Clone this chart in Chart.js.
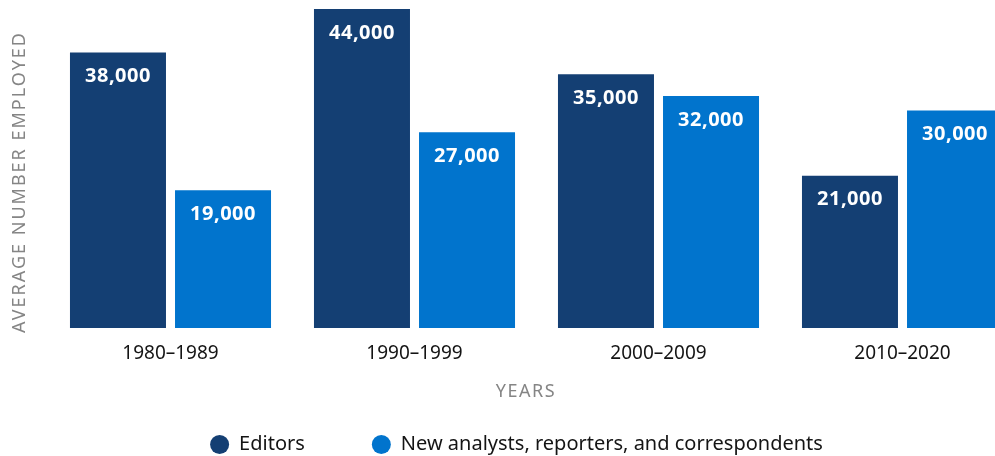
<!DOCTYPE html>
<html>
<head>
<meta charset="utf-8">
<script src="https://cdn.jsdelivr.net/npm/chart.js@4.4.1/dist/chart.umd.min.js"></script>
<style>
  html, body { margin: 0; padding: 0; background: #fff; overflow: hidden; }
  #wrap { width: 1033px; height: 456px; }
</style>
</head>
<body>
<div id="wrap"><canvas id="staff" width="1033" height="456"></canvas></div>
<script>
const decades = ['1980–1989', '1990–1999', '2000–2009', '2010–2020'];
const editors = [38000, 44000, 35000, 21000];
const analysts = [19000, 27000, 32000, 30000];
const seriesNames = ['Editors', 'New analysts, reporters, and correspondents'];
const seriesColors = ['#143f73', '#0174cd'];

const FONT = "'Noto Sans', 'Open Sans', sans-serif";

// white value labels near the top of each bar
const valueLabels = {
    id: 'valueLabels',
    afterDatasetsDraw(chart) {
        const ctx = chart.ctx;
        ctx.save();
        ctx.font = 'bold 20px ' + FONT;
        ctx.letterSpacing = '0.5px';
        ctx.fillStyle = '#ffffff';
        ctx.textAlign = 'center';
        ctx.textBaseline = 'middle';
        chart.data.datasets.forEach((ds, i) => {
            chart.getDatasetMeta(i).data.forEach((bar, j) => {
                ctx.fillText(ds.data[j].toLocaleString('en-US'), bar.x, bar.y + 24);
            });
        });
        ctx.restore();
    }
};

// axis titles with tracking, plus the round-dot legend underneath
const extras = {
    id: 'extras',
    afterDraw(chart) {
        const ctx = chart.ctx;
        ctx.save();

        // y title, stretched to the plot height
        ctx.font = '18px ' + FONT;
        ctx.fillStyle = '#858585';
        ctx.textAlign = 'center';
        ctx.textBaseline = 'middle';
        const yTitle = 'AVERAGE NUMBER EMPLOYED';
        const plain = ctx.measureText(yTitle).width;
        ctx.letterSpacing = ((300 - plain) / (yTitle.length - 1)) + 'px';
        ctx.translate(20, 182);
        ctx.rotate(-Math.PI / 2);
        ctx.fillText(yTitle, 0, 0);
        ctx.setTransform(1, 0, 0, 1, 0, 0);

        // x title
        ctx.letterSpacing = '1.5px';
        ctx.fillText('YEARS', 526, 392);

        // legend
        ctx.letterSpacing = '0px';
        ctx.font = '20px ' + FONT;
        ctx.textAlign = 'left';
        const r = 9.5, gapText = 10, gapItem = 67;
        const widths = seriesNames.map(n => ctx.measureText(n).width);
        let total = widths.reduce((a, w) => a + 2 * r + gapText + w, 0) + gapItem * (seriesNames.length - 1);
        let x = 516.5 - total / 2;
        const y = 444.5;
        seriesNames.forEach((name, i) => {
            ctx.fillStyle = seriesColors[i];
            ctx.beginPath();
            ctx.arc(x + r, y, r, 0, Math.PI * 2);
            ctx.fill();
            ctx.fillStyle = '#141414';
            ctx.fillText(name, x + 2 * r + gapText, y);
            x += 2 * r + gapText + widths[i] + gapItem;
        });
        ctx.restore();
    }
};

function draw() {
    new Chart(document.getElementById('staff'), {
        type: 'bar',
        data: {
            labels: decades,
            datasets: [
                { label: seriesNames[0], data: editors, backgroundColor: seriesColors[0] },
                { label: seriesNames[1], data: analysts, backgroundColor: seriesColors[1] }
            ]
        },
        options: {
            responsive: false,
            animation: false,
            devicePixelRatio: 1,
            categoryPercentage: 0.861,
            barPercentage: 0.914,
            layout: { padding: { top: 9, left: 48.5, right: 8.5, bottom: 0 } },
            plugins: {
                legend: { display: false },
                tooltip: { enabled: false }
            },
            scales: {
                x: {
                    grid: { display: false, drawTicks: false },
                    border: { display: false },
                    ticks: {
                        padding: 14,
                        color: '#141414',
                        font: { family: FONT, size: 19 }
                    },
                    afterFit(scale) { scale.height = 128; }
                },
                y: {
                    display: false,
                    min: 0,
                    max: 44000
                }
            }
        },
        plugins: [valueLabels, extras]
    });
}

Promise.all([
    document.fonts.load('19px "Noto Sans"'),
    document.fonts.load('bold 20px "Noto Sans"')
]).then(draw, draw);
</script>
</body>
</html>
